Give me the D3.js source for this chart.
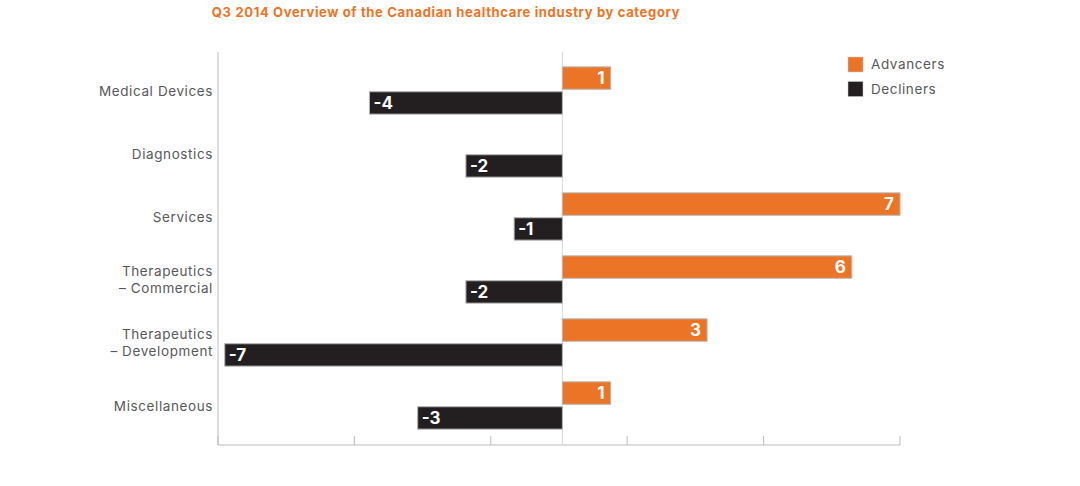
<!DOCTYPE html>
<html lang="en">
<head>
<meta charset="UTF-8">
<title>Q3 2014 Canadian healthcare</title>
<script src="https://cdn.jsdelivr.net/npm/d3@7"></script>
<style>
  body { margin: 0; background: #fff; }
  svg { display: block; }
  text { font-family: Inter, "Noto Sans", sans-serif; }
</style>
</head>
<body>
<svg width="1080" height="486"></svg>
<script>
  // data
  const categories = [
    ["Medical Devices"],
    ["Diagnostics"],
    ["Services"],
    ["Therapeutics", "– Commercial"],
    ["Therapeutics", "– Development"],
    ["Miscellaneous"]
  ];
  const advancers = [1, 0, 7, 6, 3, 1];
  const decliners = [-4, -2, -1, -2, -7, -3];
  const seriesNames = ["Advancers", "Decliners"];
  const colors = ["#ec7427", "#231f20"];

  const svg = d3.select("svg");
  const margin = { top: 52, left: 218, right: 180, bottom: 41 };
  const W = 1080, H = 486;
  const plotW = W - margin.left - margin.right;

  // title
  svg.append("text")
    .attr("x", 446).attr("y", 17)
    .attr("text-anchor", "middle")
    .attr("fill", "#ec7427")
    .style("font-size", "13px").style("font-weight", "bold")
    .style("letter-spacing", "0.65px")
    .text("Q3 2014 Overview of the Canadian healthcare industry by category");

  const x = d3.scaleLinear().domain([-7.14, 7]).range([margin.left, margin.left + plotW]);
  const y = d3.scaleBand().domain(d3.range(categories.length))
    .range([59, 437]).paddingInner(0.25).paddingOuter(0.125);
  const ySub = d3.scaleBand().domain([0, 1]).range([0, y.bandwidth()]).paddingInner(0.1);

  const bottomY = H - margin.bottom;

  // frame / axes
  svg.append("line")
    .attr("x1", margin.left).attr("x2", margin.left)
    .attr("y1", margin.top).attr("y2", bottomY)
    .attr("stroke", "#bdbdbd");
  svg.append("line")
    .attr("x1", margin.left).attr("x2", margin.left + plotW)
    .attr("y1", bottomY).attr("y2", bottomY)
    .attr("stroke", "#bdbdbd");
  const tickScale = d3.scaleLinear().domain([0, 5]).range([margin.left, margin.left + plotW]);
  svg.append("g").selectAll("line").data(d3.range(6)).join("line")
    .attr("x1", d => tickScale(d)).attr("x2", d => tickScale(d))
    .attr("y1", bottomY - 9).attr("y2", bottomY)
    .attr("stroke", "#bdbdbd");
  svg.append("line")
    .attr("x1", x(0)).attr("x2", x(0))
    .attr("y1", margin.top).attr("y2", bottomY)
    .attr("stroke", "#d9d9d9");

  // category labels
  const lab = svg.append("g").selectAll("text").data(categories).join("text")
    .attr("text-anchor", "end")
    .attr("fill", "#58595b")
    .style("font-size", "13.5px")
    .style("letter-spacing", "0.6px")
    .attr("transform", (d, i) => `translate(${margin.left - 5},${y(i) + y.bandwidth() / 2})`);
  lab.each(function(d) {
    const t = d3.select(this);
    const n = d.length;
    d.forEach((line, k) => {
      t.append("tspan").attr("x", 0)
        .attr("y", (k - (n - 1) / 2) * 17 + 5)
        .text(line);
    });
  });

  // bars
  const rows = [];
  categories.forEach((c, i) => {
    if (advancers[i] !== 0) rows.push({ i, s: 0, v: advancers[i] });
    if (decliners[i] !== 0) rows.push({ i, s: 1, v: decliners[i] });
  });

  const g = svg.append("g");
  g.selectAll("rect").data(rows).join("rect")
    .attr("x", d => x(Math.min(0, d.v)))
    .attr("width", d => Math.abs(x(d.v) - x(0)))
    .attr("y", d => y(d.i) + ySub(d.s))
    .attr("height", ySub.bandwidth())
    .attr("fill", d => colors[d.s])
    .attr("stroke", "#b5b5b5")
    .attr("stroke-width", 1);

  g.selectAll("text").data(rows).join("text")
    .attr("x", d => d.v > 0 ? x(d.v) - 6 : x(d.v) + 4)
    .attr("y", d => y(d.i) + ySub(d.s) + ySub.bandwidth() / 2 + 6)
    .attr("text-anchor", d => d.v > 0 ? "end" : "start")
    .attr("fill", "#fff")
    .style("font-size", "17px").style("font-weight", "bold")
    .text(d => d.v);

  // legend
  const leg = svg.append("g").selectAll("g").data(seriesNames).join("g")
    .attr("transform", (d, i) => `translate(848,${57 + i * 24.5})`);
  leg.append("rect").attr("width", 15).attr("height", 15)
    .attr("fill", (d, i) => colors[i]).attr("stroke", "#ccc").attr("stroke-width", 0.5);
  leg.append("text").attr("x", 23).attr("y", 12)
    .attr("fill", "#58595b").style("font-size", "13.5px")
    .style("letter-spacing", "0.6px")
    .text(d => d);
</script>
</body>
</html>
